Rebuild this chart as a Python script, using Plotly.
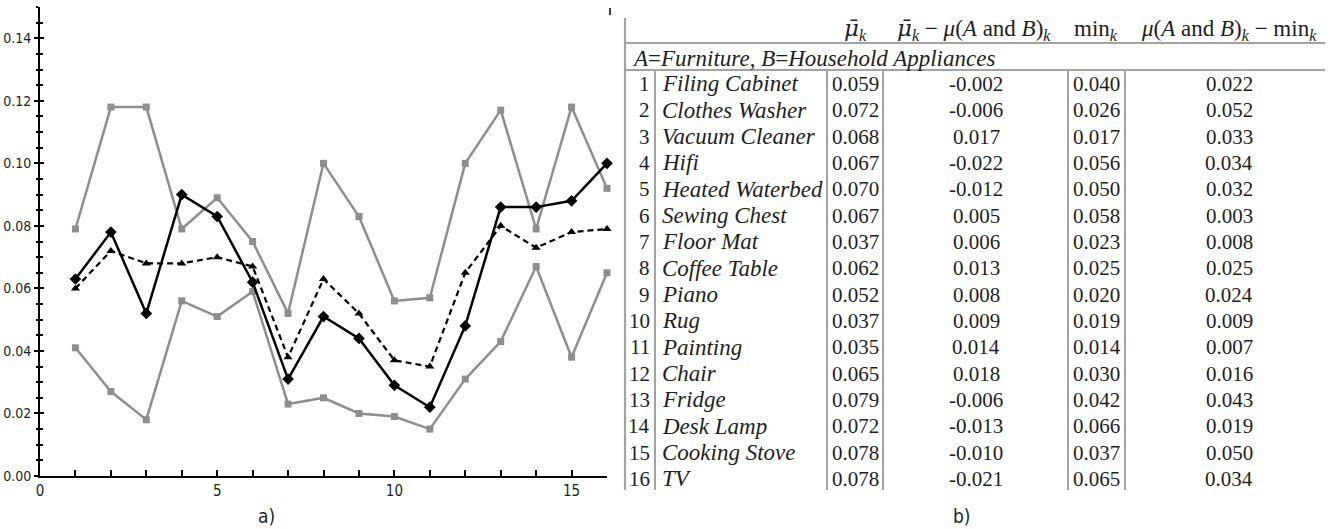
import plotly.graph_objects as go

W, H = 1340, 529

# ---------------- data: left chart ----------------
x_idx = list(range(1, 17))
upper_gray = [0.079, 0.118, 0.118, 0.079, 0.089, 0.075, 0.052, 0.100,
              0.083, 0.056, 0.057, 0.100, 0.117, 0.079, 0.118, 0.092]
lower_gray = [0.041, 0.027, 0.018, 0.056, 0.051, 0.059, 0.023, 0.025,
              0.020, 0.019, 0.015, 0.031, 0.043, 0.067, 0.038, 0.065]
mu_ab_line = [0.063, 0.078, 0.052, 0.090, 0.083, 0.062, 0.031, 0.051,
              0.044, 0.029, 0.022, 0.048, 0.086, 0.086, 0.088, 0.100]
mu_bar_line = [0.060, 0.072, 0.068, 0.068, 0.070, 0.067, 0.038, 0.063,
               0.052, 0.037, 0.035, 0.065, 0.080, 0.073, 0.078, 0.079]
x_tick_labels = ["0", "5", "10", "15"]
x_tick_vals = [0, 5, 10, 15]
y_tick_vals = [0.00, 0.02, 0.04, 0.06, 0.08, 0.10, 0.12, 0.14]

# ---------------- data: right table ----------------
row_nums = [str(i) for i in range(1, 17)]
item_names = ["Filing Cabinet", "Clothes Washer", "Vacuum Cleaner", "Hifi",
              "Heated Waterbed", "Sewing Chest", "Floor Mat", "Coffee Table",
              "Piano", "Rug", "Painting", "Chair", "Fridge", "Desk Lamp",
              "Cooking Stove", "TV"]
mu_bar = ["0.059", "0.072", "0.068", "0.067", "0.070", "0.067", "0.037", "0.062",
          "0.052", "0.037", "0.035", "0.065", "0.079", "0.072", "0.078", "0.078"]
mu_bar_minus_ab = ["-0.002", "-0.006", "0.017", "-0.022", "-0.012", "0.005", "0.006", "0.013",
                   "0.008", "0.009", "0.014", "0.018", "-0.006", "-0.013", "-0.010", "-0.021"]
min_k = ["0.040", "0.026", "0.017", "0.056", "0.050", "0.058", "0.023", "0.025",
         "0.020", "0.019", "0.014", "0.030", "0.042", "0.066", "0.037", "0.065"]
ab_minus_min = ["0.022", "0.052", "0.033", "0.034", "0.032", "0.003", "0.008", "0.025",
                "0.024", "0.009", "0.007", "0.016", "0.043", "0.019", "0.050", "0.034"]
MUBAR = "<span style=\"font-family:'DejaVu Serif'\"><i>μ̄</i></span>"
header_cols = [MUBAR + "<sub><i>k</i></sub>",
               MUBAR + "<sub><i>k</i></sub> − <i>μ</i>(<i>A</i> and <i>B</i>)<sub><i>k</i></sub>",
               "min<sub><i>k</i></sub>",
               "<i>μ</i>(<i>A</i> and <i>B</i>)<sub><i>k</i></sub> − min<sub><i>k</i></sub>"]
group_label = "<i>A</i>=<i>Furniture</i>, <i>B</i>=<i>Household Appliances</i>"

# ---------------- helpers ----------------
def px(x):
    return x / W

def py(y):
    return 1 - y / H

GRAY = "#8e8e8e"
SANS = "Liberation Sans Narrow, DejaVu Sans Condensed, Arial Narrow, sans-serif"
SERIF = "Liberation Serif, Times New Roman, serif"
TXT = "#1e1e1e"
RULE = "#a3a3a3"

fig = go.Figure()

fig.add_trace(go.Scatter(x=x_idx, y=upper_gray, mode="lines+markers",
                         line=dict(color=GRAY, width=2.5),
                         marker=dict(symbol="square", size=7, color=GRAY),
                         cliponaxis=False, showlegend=False))
fig.add_trace(go.Scatter(x=x_idx, y=lower_gray, mode="lines+markers",
                         line=dict(color=GRAY, width=2.5),
                         marker=dict(symbol="square", size=7, color=GRAY),
                         cliponaxis=False, showlegend=False))
fig.add_trace(go.Scatter(x=x_idx, y=mu_bar_line, mode="lines+markers",
                         line=dict(color="black", width=2.2, dash="6px,4px"),
                         marker=dict(symbol="triangle-up", size=8, color="black"),
                         cliponaxis=False, showlegend=False))
fig.add_trace(go.Scatter(x=x_idx, y=mu_ab_line, mode="lines+markers",
                         line=dict(color="black", width=2.5),
                         marker=dict(symbol="diamond", size=9, color="black"),
                         cliponaxis=False, showlegend=False))

x_dom = [px(40), px(607)]
y_dom = [py(476), py(7)]

fig.update_layout(
    width=W, height=H,
    margin=dict(l=0, r=0, t=0, b=0, autoexpand=False),
    paper_bgcolor="white", plot_bgcolor="white",
    xaxis=dict(domain=x_dom, range=[0, 16], showgrid=False, zeroline=False,
               automargin=False,
               showline=True, linecolor="black", linewidth=2,
               tickmode="array", tickvals=x_tick_vals, ticktext=x_tick_labels,
               ticks="inside", ticklen=6, tickwidth=1.5, tickcolor="black",
               minor=dict(dtick=1, tick0=0, ticks="inside", ticklen=6,
                          tickwidth=1.5, tickcolor="black"),
               tickfont=dict(family=SANS, size=15, color=TXT), anchor="y"),
    yaxis=dict(domain=y_dom, range=[0, 0.15], showgrid=False, zeroline=False,
               automargin=False,
               showline=True, linecolor="black", linewidth=2,
               tickmode="array", tickvals=y_tick_vals, tickformat=".2f",
               ticks="outside", ticklen=4, tickwidth=1.5, tickcolor="black",
               minor=dict(dtick=0.005, tick0=0, ticks="outside", ticklen=2,
                          tickwidth=1.5, tickcolor="black"),
               tickfont=dict(family=SANS, size=14, color=TXT), anchor="x"),
    yaxis2=dict(domain=y_dom, range=[0, 0.15], overlaying="y", anchor="x",
                automargin=False,
                showgrid=False, zeroline=False, showline=False,
                tickmode="array", tickvals=y_tick_vals, showticklabels=False,
                ticks="inside", ticklen=4, tickwidth=1.5, tickcolor="black",
                minor=dict(dtick=0.005, tick0=0, ticks="inside", ticklen=3,
                           tickwidth=1.5, tickcolor="black")),
)
# invisible trace to activate yaxis2 ticks
fig.add_trace(go.Scatter(x=[None], y=[None], yaxis="y2", showlegend=False,
                         hoverinfo="skip"))

ann = []
shapes = []

def text(x, y, t, anchor="center", size=21, family=SERIF):
    ann.append(dict(x=px(x), y=py(y), xref="paper", yref="paper", text=t,
                    showarrow=False, xanchor=anchor, yanchor="middle",
                    font=dict(family=family, size=size, color=TXT)))

# captions
text(266, 516, "a)", size=19, family=SANS)
text(962, 516, "b)", size=19, family=SANS)

# small tick mark at top right of left panel
shapes.append(dict(type="line", xref="paper", yref="paper",
                   x0=px(610), x1=px(610), y0=py(8), y1=py(15),
                   line=dict(color="black", width=1.5)))

# ---------------- table ----------------
FS = 21
header_y = 30
header_centers = [855, 974, 1096, 1229]
header_sizes = [23, 23, 23, 23]
for cx, t, s in zip(header_centers, header_cols, header_sizes):
    text(cx, header_y, t, "center", s)
text(630, 58, group_label, "left", 23)

row0, dy = 84, 26.33
for i in range(16):
    yy = row0 + i * dy
    text(652, yy, row_nums[i], "right", FS)
    text(660, yy, "<i>" + item_names[i] + "</i>", "left", 23)
    text(830, yy, mu_bar[i], "left", FS)
    text(976, yy, mu_bar_minus_ab[i], "center", FS)
    text(1071, yy, min_k[i], "left", FS)
    text(1229, yy, ab_minus_min[i], "center", FS)

def hline(y, x0, x1, w):
    shapes.append(dict(type="line", xref="paper", yref="paper",
                       x0=px(x0), x1=px(x1), y0=py(y), y1=py(y),
                       line=dict(color=RULE, width=w)))

def vline(x, y0, y1, w):
    shapes.append(dict(type="line", xref="paper", yref="paper",
                       x0=px(x), x1=px(x), y0=py(y0), y1=py(y1),
                       line=dict(color=RULE, width=w)))

vline(625, 18, 490, 2.2)
hline(43, 625, 1325, 2.2)
hline(70, 625, 1325, 2.2)
for xv in [655, 827, 883, 1068, 1125]:
    vline(xv, 70, 490, 2)

fig.update_layout(annotations=ann, shapes=shapes)

fig.write_html("out.html",
               config={"displayModeBar": False},
               post_script="document.body.style.margin='0px';"
                           "document.body.style.overflow='hidden';")
